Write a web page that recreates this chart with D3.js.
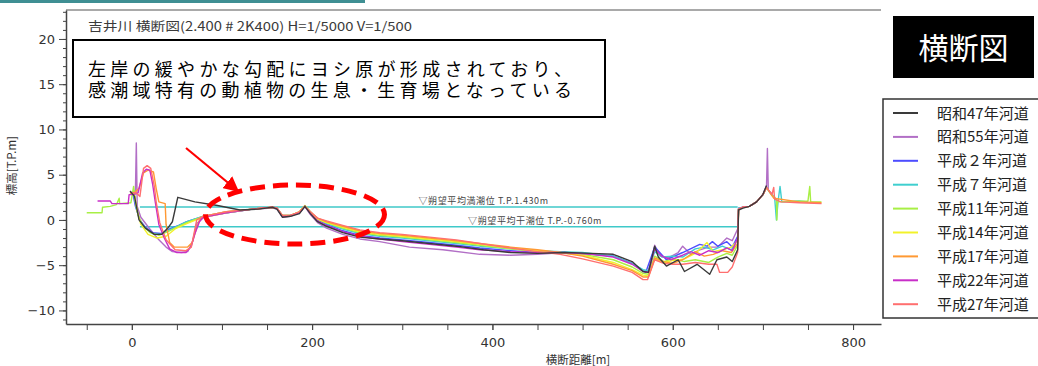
<!DOCTYPE html>
<html>
<head>
<meta charset="utf-8">
<script src="https://cdn.jsdelivr.net/npm/d3@7"></script>
<style>
  html, body { margin: 0; padding: 0; background: #fff; }
  svg { display: block; }
</style>
</head>
<body>
<svg id="chart" width="1038" height="366"></svg>
<script>
// ---- Survey cross-sections: [distance (m), elevation (T.P. m)] ----
const s47 = [[-2,3.2],[3,2.6],[8,0.0],[15,-0.9],[25,-1.6],[33,-1.6],[40,-0.9],[45,-0.2],[51,2.5],[70,2.0],[95,1.6],[120,1.1],[140,1.2],[156,1.4],[161,1.2],[167,0.3],[176,0.4],[186,0.7],[192,1.5],[198,0.7],[206,-0.2],[216,-0.7],[234,-1.4],[253,-1.9],[275,-2.1],[300,-2.3],[330,-2.6],[360,-2.9],[390,-3.3],[420,-3.6],[450,-3.7],[480,-3.6],[510,-3.7],[534,-3.8],[555,-4.6],[567,-5.7],[573,-5.8],[580,-2.9],[584,-4.1],[593,-5.1],[606,-4.4],[613,-5.7],[627,-4.9],[641,-6.0],[649,-4.4],[660,-4.1],[666,-4.6],[672,-3.3],[673,1.1],[678,1.3],[685,1.5],[693,2.0],[700,2.8],[704,3.8]];
const s55 = [[-2,3.0],[4,3.2],[5,8.5],[6,1.5],[10,0.3],[20,-1.0],[30,-2.2],[38,-3.0],[45,-3.5],[55,-3.6],[62,-3.5],[67,-2.5],[72,-0.4],[80,0.3],[105,0.8],[134,1.2],[156,1.3],[161,1.2],[167,0.3],[176,0.4],[186,0.8],[192,1.5],[198,0.6],[206,-0.3],[216,-0.9],[234,-1.6],[253,-2.1],[275,-2.4],[308,-3.0],[345,-3.3],[386,-3.8],[420,-3.9],[450,-3.8],[480,-3.6],[510,-3.8],[534,-4.0],[555,-4.8],[567,-5.6],[573,-5.7],[580,-2.8],[586,-4.0],[595,-4.2],[606,-3.6],[611,-2.9],[620,-3.8],[630,-3.3],[640,-3.0],[650,-3.0],[660,-2.0],[666,-2.3],[672,-1.0],[673,1.2],[678,1.4],[685,1.5],[693,2.0],[700,2.8],[704,3.7],[705,7.9],[706,3.3],[710,2.9]];
const h02 = [[-2,3.0],[1,3.0],[4,1.5],[9,0.0],[15,-0.8],[23,-1.4],[32,-1.5],[42,-1.0],[52,-0.6],[61,-0.2],[79,0.4],[105,0.8],[134,1.2],[156,1.4],[161,1.3],[167,0.4],[176,0.5],[186,0.8],[192,1.5],[198,0.8],[206,0.0],[216,-0.5],[234,-1.2],[253,-1.7],[275,-2.0],[300,-2.2],[330,-2.5],[360,-2.8],[386,-3.1],[420,-3.4],[450,-3.6],[475,-3.6],[500,-3.7],[534,-4.0],[555,-4.8],[570,-5.8],[580,-3.0],[593,-4.4],[611,-3.6],[630,-2.7],[638,-2.9],[644,-2.4],[650,-2.9],[660,-2.4],[666,-3.0],[672,-1.8],[673,1.3],[678,1.4],[685,1.5],[693,2.0],[700,2.8],[704,3.7]];
const h07 = [[-2,3.0],[2,3.0],[5,1.3],[9,-0.1],[15,-0.9],[23,-1.5],[32,-1.6],[42,-1.1],[61,-0.2],[79,0.4],[105,0.8],[134,1.2],[156,1.4],[161,1.3],[167,0.5],[176,0.5],[186,0.9],[192,1.5],[198,0.9],[206,0.1],[216,-0.4],[234,-1.0],[253,-1.5],[275,-1.8],[300,-2.0],[330,-2.3],[360,-2.6],[386,-2.9],[420,-3.2],[450,-3.4],[475,-3.5],[500,-3.6],[534,-4.0],[555,-4.8],[567,-5.5],[573,-5.6],[580,-3.5],[588,-4.1],[600,-4.0],[611,-4.1],[625,-3.2],[635,-3.0],[645,-3.3],[655,-2.9],[665,-3.3],[672,-2.2],[673,1.3],[678,1.4],[685,1.5],[693,2.0],[700,2.8],[704,3.6],[708,3.0],[713,2.5],[715,0.0],[717,2.2],[719,3.7],[721,2.0],[740,2.1],[750,2.0]];
const h11 = [[-50,0.8],[-33,0.8],[-32.5,1.4],[-24,1.5],[-17,1.7],[-14,2.4],[-13.5,1.8],[-1,1.9],[2,3.7],[4,2.0],[7,0.5],[12,-0.6],[20,-1.4],[30,-1.7],[40,-1.3],[50,-0.8],[61,-0.3],[79,0.4],[105,0.9],[134,1.2],[156,1.4],[161,1.3],[167,0.5],[176,0.5],[186,0.9],[192,1.6],[198,0.9],[206,0.1],[216,-0.3],[234,-0.9],[253,-1.4],[275,-1.7],[300,-1.9],[330,-2.2],[360,-2.5],[386,-2.8],[420,-3.2],[450,-3.5],[475,-3.6],[500,-3.8],[534,-4.4],[555,-5.2],[567,-5.9],[573,-6.0],[580,-4.0],[590,-4.6],[600,-4.3],[613,-4.6],[625,-4.4],[640,-4.7],[650,-4.1],[660,-3.7],[666,-3.9],[672,-2.8],[673,1.2],[678,1.4],[685,1.5],[693,2.0],[700,2.8],[704,3.6],[710,2.7],[715,2.3],[715.5,0.0],[716,2.0],[750,2.1],[752,3.7],[753,2.0],[765,2.0]];
const h14 = [[-2,3.0],[3,2.8],[6,1.0],[10,-0.5],[18,-1.6],[28,-2.0],[38,-1.8],[48,-1.0],[61,-0.4],[79,0.3],[105,0.8],[134,1.2],[156,1.4],[161,1.3],[167,0.4],[176,0.5],[186,0.9],[192,1.5],[198,0.8],[206,0.1],[216,-0.3],[234,-0.8],[253,-1.3],[275,-1.6],[300,-1.8],[330,-2.1],[360,-2.4],[386,-2.7],[420,-3.1],[450,-3.4],[475,-3.6],[500,-3.9],[534,-4.7],[555,-5.5],[567,-6.1],[573,-6.2],[580,-4.3],[590,-4.7],[600,-4.5],[613,-4.3],[625,-3.7],[638,-2.5],[645,-3.5],[655,-3.3],[665,-3.0],[672,-2.3],[673,1.2],[678,1.4],[685,1.5],[693,2.0],[700,2.8],[704,3.6]];
const h17 = [[-2,3.0],[3,3.0],[8,3.5],[13,5.2],[18,5.5],[24,5.3],[27,3.5],[30,2.0],[37,1.8],[38,-0.5],[42,-2.5],[47,-3.0],[55,-3.0],[62,-3.0],[67,-2.5],[71,-1.2],[75,0.0],[79,0.4],[105,0.9],[134,1.2],[156,1.4],[161,1.3],[167,0.5],[176,0.5],[186,0.9],[192,1.5],[198,0.9],[206,0.2],[216,-0.2],[234,-0.7],[253,-1.2],[275,-1.5],[300,-1.7],[330,-2.0],[360,-2.3],[386,-2.6],[420,-3.0],[450,-3.3],[475,-3.6],[500,-4.0],[534,-4.9],[555,-5.6],[567,-6.3],[573,-6.3],[580,-4.2],[590,-4.6],[600,-4.8],[611,-4.4],[625,-3.5],[635,-4.0],[645,-3.8],[655,-3.4],[665,-3.6],[672,-2.6],[673,1.2],[678,1.4],[685,1.5],[693,2.0],[700,2.8],[704,3.6],[712,2.4],[740,2.0],[765,1.9]];
const h22 = [[-38,2.1],[-24,2.1],[-22,1.8],[-4,1.8],[-3,2.8],[2,2.8],[7,3.0],[12,5.2],[16,5.6],[20,5.5],[23,4.0],[26,2.0],[30,-0.5],[36,-2.0],[42,-3.2],[50,-3.6],[60,-3.6],[66,-2.9],[70,-1.5],[75,-0.2],[79,0.3],[105,0.8],[134,1.2],[156,1.4],[161,1.3],[167,0.4],[176,0.5],[186,0.8],[192,1.5],[198,0.7],[206,-0.1],[216,-0.6],[234,-1.3],[253,-1.8],[275,-2.1],[300,-2.4],[330,-2.7],[360,-3.0],[386,-3.3],[420,-3.5],[450,-3.6],[480,-3.6],[510,-3.8],[534,-4.1],[555,-4.9],[567,-5.7],[573,-5.8],[580,-3.2],[588,-4.0],[598,-4.4],[611,-3.9],[620,-3.5],[630,-3.9],[640,-3.4],[650,-3.6],[660,-3.1],[666,-3.4],[672,-2.0],[673,1.2],[678,1.4],[685,1.5],[693,2.0],[700,2.8],[704,3.7]];
const h27 = [[-2,3.0],[5,3.0],[9,2.6],[13,5.7],[17,6.0],[21,5.7],[25,3.7],[27,2.0],[31,-0.3],[38,-2.2],[48,-3.3],[60,-3.4],[66,-3.0],[72,0.0],[79,0.4],[105,0.9],[134,1.2],[156,1.4],[161,1.3],[167,0.5],[176,0.5],[186,0.9],[192,1.5],[198,0.9],[206,0.2],[216,-0.1],[234,-0.6],[253,-1.1],[275,-1.4],[300,-1.6],[330,-1.9],[360,-2.2],[386,-2.6],[420,-3.1],[450,-3.5],[475,-3.8],[500,-4.3],[534,-5.1],[555,-5.8],[567,-6.6],[572,-6.6],[580,-4.4],[590,-4.8],[600,-4.9],[611,-4.9],[625,-4.7],[640,-4.9],[649,-4.9],[652,-5.8],[661,-5.8],[666,-5.2],[672,-3.6],[673,1.2],[678,1.4],[685,1.5],[693,2.0],[700,2.8],[704,3.6],[710,2.8],[712,3.6],[713,2.3],[720,2.0],[740,1.9],[765,1.8]];

const seriesData   = [s47, s55, h02, h07, h11, h14, h17, h22, h27];
const seriesNames  = ["昭和47年河道","昭和55年河道","平成２年河道","平成７年河道","平成11年河道","平成14年河道","平成17年河道","平成22年河道","平成27年河道"];
const seriesColors = ["#3a3a3a","#b26fc6","#4d4dff","#3fcfcf","#a8ef45","#f2f22a","#ff9933","#c82ec8","#ff6f6f"];

// Reference water levels (T.P. m) and the stretch of channel they span
const tideLevels = [1.43, -0.76];
const tideLabels = ["▽朔望平均満潮位 T.P.1.430m", "▽朔望平均干潮位 T.P.-0.760m"];
const tideLabelAt = [318, 373];
const tideExtent = [9, 672];

const yMajorTicks = [-10, -5, 0, 5, 10, 15, 20];
const xMajorTicks = [0, 200, 400, 600, 800];

const titleText = "吉井川 横断図(2.400 # 2K400) H=1/5000 V=1/500";
const noteLines = ["左岸の緩やかな勾配にヨシ原が形成されており、", "感潮域特有の動植物の生息・生育場となっている"];

// ---- Layout ----
const svg = d3.select("#chart");
const plot = { left: 66, right: 881, top: 10, bottom: 324 };

const x = d3.scaleLinear().domain([-73, 831]).range([plot.left, plot.right]);
const y = d3.scaleLinear().domain([-11.5, 23.2]).range([plot.bottom, plot.top]);

// slide header rule
svg.append("rect").attr("x", 0).attr("y", 0).attr("width", 365).attr("height", 3).attr("fill", "#3f8f93");

// frame top edge
svg.append("line").attr("x1", plot.left).attr("x2", plot.right).attr("y1", plot.top).attr("y2", plot.top)
  .attr("stroke", "#555").attr("stroke-width", 1.2);

// ---- Axes ----
const tickFont = "'DejaVu Sans', sans-serif";
const yMinor = svg.append("g").attr("transform", `translate(${plot.left},0)`)
  .call(d3.axisLeft(y).tickValues(d3.range(-11, 24, 1)).tickSize(3).tickFormat(""));
yMinor.select(".domain").remove();
yMinor.selectAll("line").attr("stroke", "#444");

const yAxis = svg.append("g").attr("transform", `translate(${plot.left},0)`)
  .call(d3.axisLeft(y).tickValues(yMajorTicks).tickSize(7).tickSizeOuter(0).tickPadding(4));
yAxis.select(".domain").attr("stroke", "#444").attr("stroke-width", 1.5);
yAxis.selectAll("line").attr("stroke", "#444");
yAxis.selectAll("text").attr("font-family", tickFont).attr("font-size", 13).attr("fill", "#333");

const xMinor = svg.append("g").attr("transform", `translate(0,${plot.bottom})`)
  .call(d3.axisBottom(x).tickValues(d3.range(-50, 801, 50)).tickSize(6).tickFormat(""));
xMinor.select(".domain").remove();
xMinor.selectAll("line").attr("stroke", "#444");

const xAxis = svg.append("g").attr("transform", `translate(0,${plot.bottom})`)
  .call(d3.axisBottom(x).tickValues(xMajorTicks).tickSize(6).tickSizeOuter(0).tickPadding(8));
xAxis.select(".domain").attr("stroke", "#444").attr("stroke-width", 1.5);
xAxis.selectAll("line").attr("stroke", "#444");
xAxis.selectAll("text").attr("font-family", tickFont).attr("font-size", 13).attr("fill", "#333");

const jp = "'Noto Sans CJK JP', sans-serif";
// compact metrics so stacked Japanese lines keep tight leading
const jpTight = "'Liberation Sans', 'Noto Sans CJK JP', sans-serif";
svg.append("text").attr("x", 578).attr("y", 364)
  .attr("text-anchor", "middle").attr("font-family", jp).attr("font-size", 11.5).attr("fill", "#333")
  .text("横断距離[m]");
svg.append("text").attr("transform", `translate(16,${y(6.0)}) rotate(-90)`)
  .attr("text-anchor", "middle").attr("font-family", jp).attr("font-size", 11.5).attr("fill", "#333")
  .text("標高[T.P.m]");

// ---- Title ----
svg.append("text").attr("x", 88).attr("y", 31).attr("font-family", jp).attr("font-size", 12.5)
  .attr("fill", "#3a3a3a").attr("textLength", 324).attr("lengthAdjust", "spacingAndGlyphs").text(titleText);

// ---- Tide reference lines ----
const tides = svg.append("g");
tideLevels.forEach((lv, i) => {
  tides.append("line").attr("x1", x(tideExtent[0])).attr("x2", x(tideExtent[1]))
    .attr("y1", y(lv)).attr("y2", y(lv)).attr("stroke", "#3fc9c9").attr("stroke-width", 1.5);
  tides.append("text").attr("x", x(tideLabelAt[i])).attr("y", y(lv) - 3)
    .attr("font-family", jp).attr("font-size", 9).attr("fill", "#444")
    .attr("letter-spacing", 0.6).text(tideLabels[i]);
});

// ---- Cross-section profiles ----
const line = d3.line().x(d => x(d[0])).y(d => y(d[1]));
const drawOrder = [1, 2, 3, 4, 5, 6, 7, 8, 0];
svg.append("g").selectAll("path").data(drawOrder).join("path")
  .attr("d", i => line(seriesData[i]))
  .attr("fill", "none")
  .attr("stroke", i => seriesColors[i])
  .attr("stroke-width", 1.4)
  .attr("stroke-linejoin", "round");

// ---- Annotation box ----
svg.append("rect").attr("x", 73).attr("y", 40).attr("width", 532).attr("height", 77)
  .attr("fill", "#fff").attr("stroke", "#000").attr("stroke-width", 2);
noteLines.forEach((t, i) => {
  svg.append("text").attr("x", 88).attr("y", 76 + i * 20.5)
    .attr("font-family", jpTight).attr("font-size", 18).attr("fill", "#000")
    .attr("textLength", 484).attr("lengthAdjust", "spacing").text(t);
});

// ---- Highlight: arrow and dashed ellipse around the reed bed ----
const defs = svg.append("defs");
defs.append("marker").attr("id", "arrowHead").attr("viewBox", "0 0 10 10")
  .attr("refX", 9).attr("refY", 5).attr("markerWidth", 7).attr("markerHeight", 7)
  .attr("markerUnits", "strokeWidth").attr("orient", "auto")
  .append("path").attr("d", "M0,0 L10,5 L0,10 z").attr("fill", "#ff0000");
svg.append("line").attr("x1", 186).attr("y1", 148).attr("x2", 238).attr("y2", 191)
  .attr("stroke", "#ff0000").attr("stroke-width", 2.2).attr("marker-end", "url(#arrowHead)");
svg.append("ellipse").attr("cx", x(181)).attr("cy", y(0.6)).attr("rx", 89.5).attr("ry", 29.5)
  .attr("fill", "none").attr("stroke", "#ff0000").attr("stroke-width", 5)
  .attr("stroke-dasharray", "15,8");

// ---- Legend ----
svg.append("rect").attr("x", 893).attr("y", 16).attr("width", 141).attr("height", 62).attr("fill", "#000");
svg.append("text").attr("x", 963.5).attr("y", 59).attr("text-anchor", "middle")
  .attr("font-family", jp).attr("font-size", 30).attr("fill", "#fff").text("横断図");

svg.append("rect").attr("x", 883).attr("y", 99).attr("width", 170).attr("height", 219)
  .attr("fill", "#fff").attr("stroke", "#333").attr("stroke-width", 1.5);
const legend = svg.append("g").selectAll("g").data(seriesNames).join("g")
  .attr("transform", (d, i) => `translate(0,${113 + i * 23.9})`);
legend.append("line").attr("x1", 893).attr("x2", 918).attr("y1", 0).attr("y2", 0)
  .attr("stroke", (d, i) => seriesColors[i]).attr("stroke-width", 2);
legend.append("text").attr("x", 937).attr("y", 5.5)
  .attr("font-family", jp).attr("font-size", 15).attr("fill", "#222").text(d => d);
</script>
</body>
</html>
